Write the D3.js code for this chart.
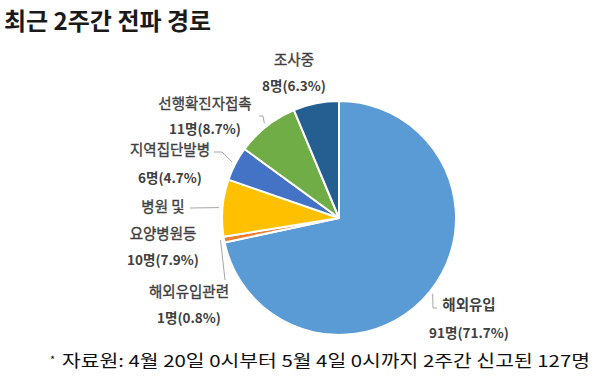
<!DOCTYPE html>
<html><head><meta charset="utf-8">
<script src="https://cdn.jsdelivr.net/npm/d3@7/dist/d3.min.js"></script>
<style>
body{margin:0;background:#fff;}
svg{display:block;}
</style></head>
<body><svg id="c" width="600" height="381"></svg>
<script>
const categories = ["해외유입","해외유입관련","병원 및 요양병원등","지역집단발병","선행확진자접촉","조사중"];
const counts = [91, 1, 10, 6, 11, 8];
const percents = ["71.7%","0.8%","7.9%","4.7%","8.7%","6.3%"];
const nameLines = [["해외유입"],["해외유입관련"],["병원 및","요양병원등"],["지역집단발병"],["선행확진자접촉"],["조사중"]];
const titleText = "최근 2주간 전파 경로";
const footText = "자료원: 4월 20일 0시부터 5월 4일 0시까지 2주간 신고된 127명";

// layout (not data)
const colors = ["#5B9BD5","#ED7D31","#FFC000","#4472C4","#70AD47","#255E91"];
const cx = 339, cy = 218, R = 117;
const labelPos = [ // x center, first line center y, line gap
  {x:469, y:303, gap:29},
  {x:189, y:290, gap:27},
  {x:163, y:205, gap:27},
  {x:170, y:148, gap:29},
  {x:205, y:102, gap:26},
  {x:294, y:58, gap:27}
];
const leaders = [
  [[433,308],[437,308]],
  [[225,280]],
  [[190,208]],
  [[222,152],[214,152]],
  [[263,116],[259,116]],
  null
];

const svg = d3.select("#c");
const font = "'Noto Sans CJK KR','Noto Sans',sans-serif";

svg.append("text").attr("x",4).attr("y",30)
  .attr("font-family",font).attr("font-weight","bold").attr("font-size",24)
  .attr("fill","#1a1a1a").text(titleText);

const data = categories.map((c,i)=>({name:c, value:counts[i], pct:percents[i], i}));
const pie = d3.pie().value(d=>d.value).sort(null).startAngle(0).endAngle(2*Math.PI);
const arcs = pie(data);
const arc = d3.arc().innerRadius(0).outerRadius(R);
const g = svg.append("g").attr("transform",`translate(${cx},${cy})`);
g.selectAll("path").data(arcs).join("path")
  .attr("d",arc).attr("fill",d=>colors[d.data.i])
  .attr("stroke","#fff").attr("stroke-width",2).attr("stroke-linejoin","round");

const edgeArc = d3.arc().innerRadius(R*1.03).outerRadius(R*1.03);
arcs.forEach((a,i)=>{
  if(!leaders[i]) return;
  const c = edgeArc.centroid(a);
  const pts = [[c[0]+cx,c[1]+cy]].concat(leaders[i]);
  svg.append("path").attr("d",d3.line()(pts))
    .attr("fill","none").attr("stroke","#a6a6a6").attr("stroke-width",1);
});

data.forEach((d,i)=>{
  const p = labelPos[i];
  const lines = nameLines[i];
  lines.forEach((t,k)=>{
    svg.append("text").attr("x",p.x).attr("y",p.y+k*p.gap)
      .attr("text-anchor","middle").attr("dominant-baseline","central")
      .attr("font-family",font).attr("font-size",14.5).attr("fill","#404040")
      .attr("font-weight", i===0 ? "bold" : "normal")
      .attr("stroke", i===0 ? "none" : "#404040").attr("stroke-width",0.35)
      .text(t);
  });
  svg.append("text").attr("x",p.x).attr("y",p.y+lines.length*p.gap)
    .attr("text-anchor","middle").attr("dominant-baseline","central")
    .attr("font-family",font).attr("font-size",13.5).attr("font-weight","bold").attr("fill","#404040")
    .text(d.value+"명("+d.pct+")");
});

svg.append("text").attr("x",50).attr("y",364)
  .attr("font-family",font).attr("font-size",11).attr("fill","#111").text("*");
svg.append("text").attr("x",62).attr("y",367)
  .attr("font-family",font).attr("font-size",16.5).attr("fill","#111")
  .attr("textLength",528).attr("lengthAdjust","spacingAndGlyphs")
  .text(footText);
</script></body></html>
